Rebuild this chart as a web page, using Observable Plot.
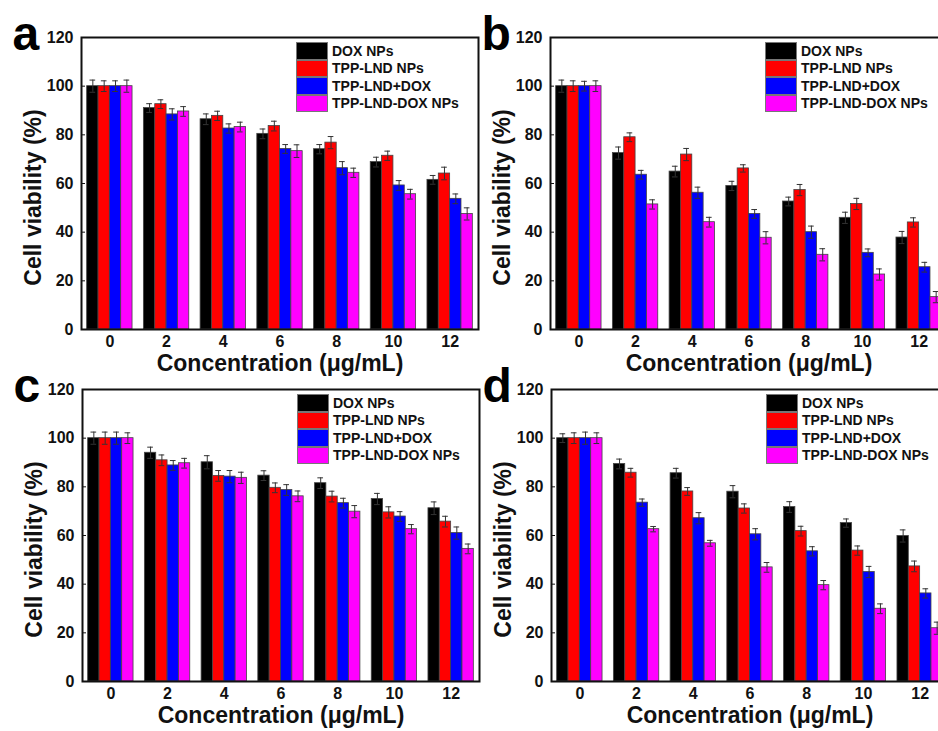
<!DOCTYPE html>
<html>
<head>
<meta charset="utf-8">
<script src="https://cdn.jsdelivr.net/npm/d3@7"></script>
<script src="https://cdn.jsdelivr.net/npm/@observablehq/plot@0.6"></script>
<style>
  body { margin: 0; background: #fff; }
  #fig { position: relative; width: 938px; height: 731px; overflow: hidden; background: #fff; }
  .panel { position: absolute; width: 480px; height: 379px; }
  .panel svg { overflow: visible; max-width: none !important; width: 480px; height: 379px; }
  .legend { position: absolute; font-family: "Liberation Sans", Arial, Helvetica, sans-serif; font-weight: bold; font-size: 14px; color: #111; }
  .legend .row { display: flex; align-items: center; height: 17.5px; }
  .legend .sw { width: 32px; height: 17.5px; box-sizing: border-box; border: 1px solid #777; }
  .legend .lab { margin-left: 4px; white-space: nowrap; }
</style>
</head>
<body>
<div id="fig"></div>
<script>
// ---------- data ----------
const concentrations = [0, 2, 4, 6, 8, 10, 12];
const seriesNames = ["DOX NPs", "TPP-LND NPs", "TPP-LND+DOX", "TPP-LND-DOX NPs"];
const seriesColors = ["#000000", "#ff0000", "#0000ff", "#ff00ff"];
const yTicks = [0, 20, 40, 60, 80, 100, 120];
const yLabel = "Cell viability (%)";
const xLabel = "Concentration (\u03bcg/mL)";
const panelLetters = ["a", "b", "c", "d"];

// panel a
const valuesA = [
  [100, 91.0, 86.4, 80.4, 74.1, 68.8, 61.5],
  [100, 92.6, 87.8, 83.6, 76.8, 71.4, 64.1],
  [100, 88.4, 82.6, 74.2, 66.3, 59.2, 53.7],
  [100, 89.6, 83.2, 73.3, 64.4, 55.6, 47.5]
];
const errorsA = [
  [2.5, 1.8, 2.2, 2.0, 1.9, 2.0, 1.8],
  [2.2, 1.8, 1.9, 2.0, 2.5, 1.9, 2.6],
  [2.2, 2.3, 1.9, 1.8, 2.7, 2.0, 2.0],
  [2.5, 2.0, 2.0, 2.6, 1.9, 2.0, 2.5]
];
// panel b
const valuesB = [
  [100, 72.5, 64.9, 59.0, 52.6, 45.9, 37.8],
  [100, 79.0, 71.9, 66.2, 57.3, 51.6, 44.0],
  [100, 63.6, 56.2, 47.5, 40.0, 31.5, 25.6],
  [100, 51.4, 44.1, 37.7, 30.7, 22.6, 13.3]
];
const errorsB = [
  [2.5, 2.5, 2.2, 1.9, 1.8, 2.3, 2.5],
  [2.2, 1.8, 2.5, 1.5, 2.3, 2.3, 1.9],
  [2.0, 1.8, 2.3, 1.8, 2.5, 1.6, 2.0],
  [2.2, 1.9, 2.0, 2.5, 2.5, 2.3, 2.3]
];
// panel c
const valuesC = [
  [100, 94.0, 90.1, 84.6, 81.5, 75.0, 71.2],
  [100, 90.9, 84.5, 79.6, 76.0, 69.5, 65.7],
  [100, 88.8, 84.2, 78.7, 73.3, 67.8, 61.0],
  [100, 89.7, 83.7, 76.1, 69.8, 62.6, 54.5]
];
const errorsC = [
  [2.5, 2.3, 2.7, 2.0, 2.2, 2.3, 2.6],
  [2.5, 2.2, 2.2, 2.0, 2.2, 2.3, 2.2],
  [2.5, 2.0, 2.5, 2.2, 2.0, 2.0, 2.5],
  [2.2, 2.0, 2.3, 2.2, 2.5, 1.9, 2.0]
];
// panel d
const valuesD = [
  [100, 89.4, 85.6, 78.0, 71.7, 65.1, 59.8],
  [100, 85.8, 78.1, 71.1, 61.8, 53.8, 47.3],
  [100, 73.5, 67.1, 60.5, 53.5, 45.0, 36.2],
  [100, 62.6, 56.8, 46.9, 39.6, 29.9, 21.9]
];
const errorsD = [
  [1.8, 2.0, 2.0, 2.5, 2.2, 1.7, 2.5],
  [2.2, 1.8, 1.6, 1.9, 2.0, 1.9, 2.2],
  [2.5, 1.5, 2.3, 2.3, 1.9, 2.3, 1.9],
  [2.2, 1.1, 1.2, 2.0, 1.9, 2.0, 2.5]
];

// ---------- layout ----------
const FONT = '"Liberation Sans", Arial, Helvetica, sans-serif';
const W = 480, H = 379, ML = 81, MR = 2, MT = 37, MB = 50;
const groupWidth = 0.8;
const barW = groupWidth / seriesNames.length;

function makePanel(letter, left, top, values, errors) {
  const rows = [];
  concentrations.forEach((c, g) => {
    seriesNames.forEach((s, k) => {
      rows.push({g, k, series: s, value: values[k][g], err: errors[k][g]});
    });
  });
  const x1 = d => d.g - groupWidth / 2 + barW * d.k;
  const x2 = d => d.g - groupWidth / 2 + barW * (d.k + 1);
  const xc = d => d.g - groupWidth / 2 + barW * (d.k + 0.5);
  const capHalf = barW * 0.25;

  const svg = Plot.plot({
    width: W, height: H,
    marginLeft: ML, marginRight: MR, marginTop: MT, marginBottom: MB,
    style: {fontFamily: FONT, fontWeight: "bold", fontSize: "16px", background: "transparent", color: "#111"},
    x: {domain: [-0.5, concentrations.length - 0.5]},
    y: {domain: [0, 120]},
    color: {domain: seriesNames, range: seriesColors},
    marks: [
      Plot.rectY(rows, {x1, x2, y1: 0, y2: "value", fill: "series", stroke: "#444", strokeWidth: 0.8}),
      Plot.ruleX(rows, {x: xc, y1: d => d.value - d.err, y2: d => d.value + d.err, stroke: "#333", strokeWidth: 1}),
      Plot.ruleY(rows, {y: d => d.value + d.err, x1: d => xc(d) - capHalf, x2: d => xc(d) + capHalf, stroke: "#333", strokeWidth: 1}),
      Plot.ruleY(rows, {y: d => d.value - d.err, x1: d => xc(d) - capHalf, x2: d => xc(d) + capHalf, stroke: "#333", strokeWidth: 1}),
      Plot.frame({stroke: "#111", strokeWidth: 2}),
      Plot.axisX({ticks: d3.range(concentrations.length), tickFormat: i => String(concentrations[i]), tickSize: 0, tickPadding: 6, label: null, fontSize: 16}),
      Plot.axisY({ticks: yTicks, tickSize: -4, tickPadding: 12, label: null, fontSize: 16}),
      Plot.text([yLabel], {frameAnchor: "left", rotate: -90, dx: -48, dy: 14, textAnchor: "middle", lineAnchor: "middle", fontSize: 23, fontWeight: "bold", fill: "#111"}),
      Plot.text([xLabel], {frameAnchor: "bottom", dy: 34, textAnchor: "middle", lineAnchor: "middle", fontSize: 23, fontWeight: "bold", fill: "#111"}),
      Plot.text([letter], {frameAnchor: "top-left", dx: -69, dy: 12, textAnchor: "start", lineAnchor: "bottom", fontSize: 48, fontWeight: "bold", fill: "#000"})
    ]
  });
  const holder = document.createElement("div");
  holder.className = "panel";
  holder.style.left = left + "px";
  holder.style.top = top + "px";
  holder.appendChild(svg);
  fig.appendChild(holder);

  const legend = document.createElement("div");
  legend.className = "legend";
  legend.style.left = (left + ML + 215) + "px";
  legend.style.top = (top + MT + 5) + "px";
  seriesNames.forEach((s, i) => {
    const row = document.createElement("div");
    row.className = "row";
    const sw = document.createElement("div");
    sw.className = "sw";
    sw.style.background = seriesColors[i];
    const lab = document.createElement("span");
    lab.className = "lab";
    lab.textContent = s;
    row.appendChild(sw);
    row.appendChild(lab);
    legend.appendChild(row);
  });
  fig.appendChild(legend);
}

const fig = document.getElementById("fig");
makePanel(panelLetters[0], 0, 0, valuesA, errorsA);
makePanel(panelLetters[1], 469, 0, valuesB, errorsB);
makePanel(panelLetters[2], 1, 352, valuesC, errorsC);
makePanel(panelLetters[3], 470, 352, valuesD, errorsD);
</script>
</body>
</html>
